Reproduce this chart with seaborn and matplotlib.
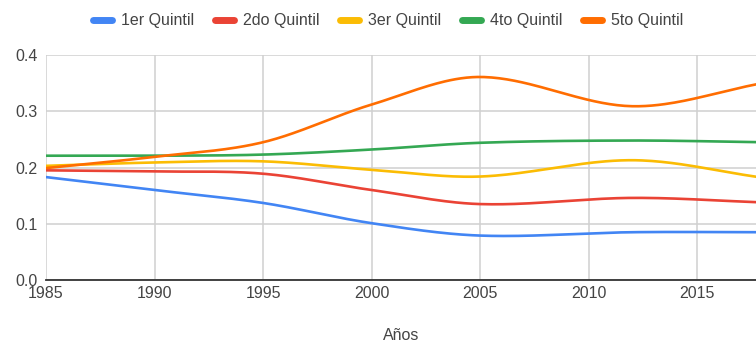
import matplotlib
matplotlib.use("Agg")
import matplotlib.pyplot as plt
from matplotlib.lines import Line2D
import numpy as np
import pandas as pd
import seaborn as sns

# values at the data years
years = [1985, 1990, 1995, 2000, 2005, 2012, 2018]
q1 = [0.183, 0.160, 0.137, 0.101, 0.079, 0.085, 0.085]
q2 = [0.195, 0.193, 0.189, 0.160, 0.135, 0.146, 0.138]
q3 = [0.203, 0.209, 0.211, 0.196, 0.184, 0.213, 0.182]
q4 = [0.221, 0.221, 0.223, 0.232, 0.244, 0.248, 0.245]
q5 = [0.199, 0.219, 0.245, 0.312, 0.361, 0.309, 0.350]

labels = ["1er Quintil", "2do Quintil", "3er Quintil", "4to Quintil", "5to Quintil"]
colors = ["#4285F4", "#EA4335", "#FBBC04", "#34A853", "#FF6D01"]


# smooth curve through the points (cubic hermite, catmull-rom style tangents)
def smooth(xs, ys, n=40):
    xs = np.asarray(xs, float)
    ys = np.asarray(ys, float)
    m = np.zeros_like(ys)
    m[1:-1] = (ys[2:] - ys[:-2]) / (xs[2:] - xs[:-2])
    m[0] = (ys[1] - ys[0]) / (xs[1] - xs[0])
    m[-1] = (ys[-1] - ys[-2]) / (xs[-1] - xs[-2])
    outx, outy = [], []
    for i in range(len(xs) - 1):
        h = xs[i + 1] - xs[i]
        t = np.linspace(0, 1, n, endpoint=False)
        h00 = 2 * t**3 - 3 * t**2 + 1
        h10 = t**3 - 2 * t**2 + t
        h01 = -2 * t**3 + 3 * t**2
        h11 = t**3 - t**2
        outx.extend(xs[i] + t * h)
        outy.extend(h00 * ys[i] + h10 * h * m[i] + h01 * ys[i + 1] + h11 * h * m[i + 1])
    outx.append(xs[-1])
    outy.append(ys[-1])
    return outx, outy


rows = []
for lab, vals in zip(labels, [q1, q2, q3, q4, q5]):
    sx, sy = smooth(years, vals)
    for a, b in zip(sx, sy):
        rows.append({"Año": a, "valor": b, "serie": lab})
df = pd.DataFrame(rows)

sns.set_style("white")
plt.rcParams["font.family"] = ["Liberation Sans", "DejaVu Sans"]

fig = plt.figure(figsize=(7.56, 3.44), dpi=100)
ax = fig.add_axes([0.0608, 0.186, 0.9392, 0.654])

sns.lineplot(data=df, x="Año", y="valor", hue="serie", hue_order=labels,
             palette=colors, linewidth=1.9, ax=ax, legend=False, sort=False,
             estimator=None)

ax.set_xlim(1985, 2017.7)
ax.set_ylim(0, 0.4)
ax.set_xticks([1985, 1990, 1995, 2000, 2005, 2010, 2015])
ax.set_yticks([0.0, 0.1, 0.2, 0.3, 0.4])
ax.set_yticklabels(["0.0", "0.1", "0.2", "0.3", "0.4"])
ax.grid(True, color="#d0d0d0", linewidth=1.1)
ax.set_axisbelow(True)
for s in ["top", "right", "left"]:
    ax.spines[s].set_visible(False)
ax.spines["bottom"].set_color("#333333")
ax.spines["bottom"].set_linewidth(1.3)
ax.spines["bottom"].set_zorder(5)
ax.tick_params(axis="both", length=0, labelsize=11.5, labelcolor="#444444", pad=6)
ax.tick_params(axis="x", pad=4)
ax.set_xlabel("Años", fontsize=11.5, color="#444444", labelpad=20)
ax.set_ylabel("")

handles = [Line2D([0], [0], color=c, linewidth=5, solid_capstyle="round") for c in colors]
fig.legend(handles, labels, loc="center", bbox_to_anchor=(0.513, 0.94), ncol=5,
           frameon=False, fontsize=11.5, handlelength=1.2, handletextpad=0.55,
           columnspacing=1.3, labelcolor="#444444")

fig.savefig("out.png", dpi=100)
